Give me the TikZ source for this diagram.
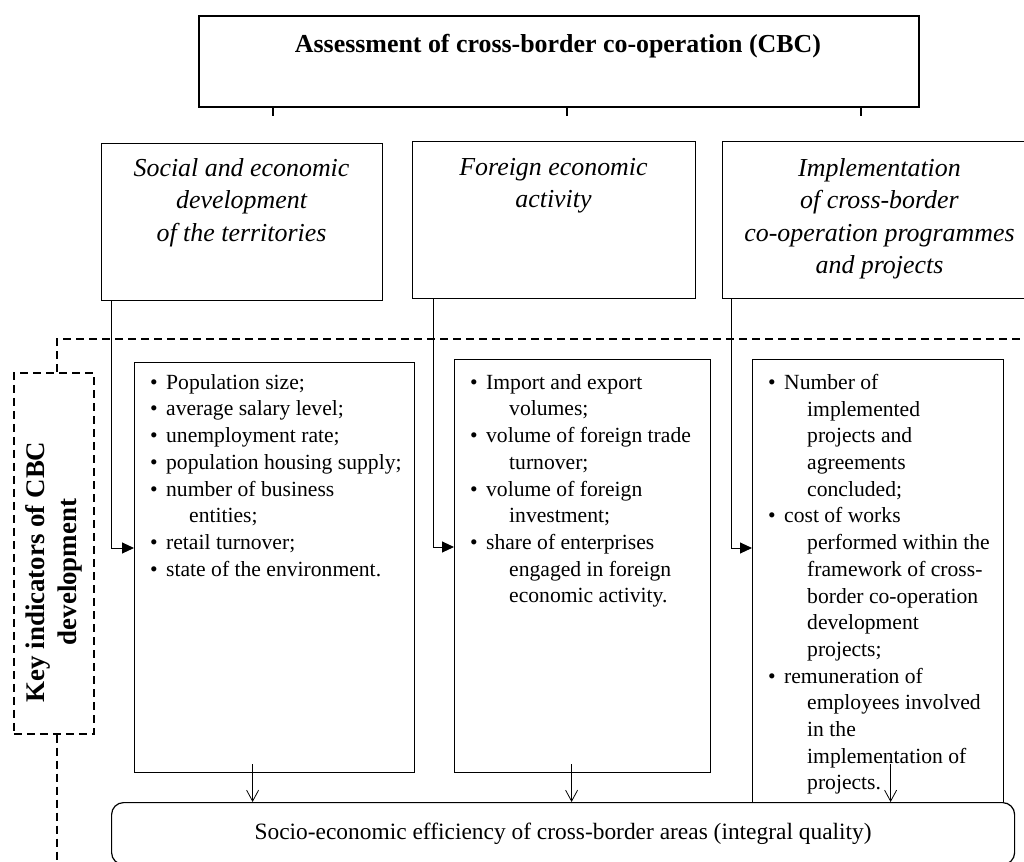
\documentclass[tikz,border=0pt]{standalone}
\usepackage{fontspec}
\setmainfont{Liberation Serif}
\usetikzlibrary{arrows.meta,positioning,calc}

\tikzset{
  % ---- boxes ------------------------------------------------------------
  boxframe/.style={draw=black, line width=1.2bp, inner sep=0pt, anchor=north west},
  topbox/.style={boxframe, line width=2bp},
  headbox/.style={boxframe, minimum height=157bp},
  listbox/.style={boxframe},
  keybox/.style={boxframe, line width=1.5bp, dash pattern=on 8bp off 5bp},
  effbox/.style={boxframe, rounded corners=12bp,
    font=\fontsize{23.5}{28}\selectfont},
  % ---- texts ------------------------------------------------------------
  ttl/.style={font=\bfseries\fontsize{26}{31}\selectfont, inner sep=0pt},
  htxt/.style={font=\itshape\fontsize{26}{32.6}\selectfont, align=center,
    inner sep=0pt, anchor=north},
  ltxt/.style={font=\fontsize{21.7}{26.8}\selectfont, align=left,
    inner sep=0pt, anchor=north west},
  ktxt/.style={font=\bfseries\fontsize{27}{32}\selectfont, align=center,
    inner sep=0pt, rotate=90},
  % ---- lines ------------------------------------------------------------
  stub/.style={line width=1.5bp},
  ar/.style={-{Triangle[length=12bp,width=11bp]}, line width=1bp},
  dar/.style={-{Straight Barb[length=11bp,width=12bp]}, line width=0.8bp},
  dline/.style={line width=1.5bp, dash pattern=on 8bp off 5bp},
}
\newcommand{\blt}[1]{\makebox[16bp][l]{\textbullet}#1}
\newcommand{\cnt}[1]{\hspace*{39bp}#1}

\begin{document}
\begin{tikzpicture}[x=1bp,y=-1bp]
\useasboundingbox (0,0) rectangle (1024,862);
\clip (0,0) rectangle (1024,862);

% ---- assessment -----------------------------------------------------------
\node[topbox, minimum width=720bp, minimum height=91bp] (top) at (198,15) {};
\node[ttl] (toptxt) at (558,46) {Assessment of cross-border co-operation (CBC)};
\draw[stub] ([xshift=75bp]top.south west) -- ++(0,8);
\draw[stub] ([xshift=369bp]top.south west) -- ++(0,8);
\draw[stub] ([xshift=663bp]top.south west) -- ++(0,8);

% ---- directions -----------------------------------------------------------
\node[headbox, minimum width=281bp] (h1) at (101,143) {};
\node[headbox, minimum width=283bp] (h2) at (412,141) {};
\node[headbox, minimum width=315bp] (h3) at (722,141) {};
\node[htxt] (h1t) at (241.5,158) {Social and economic\\development\\of the territories};
\node[htxt] (h2t) at (553.5,158) {Foreign economic\\activity};
\node[htxt] (h3t) at (879.5,158)
  {Implementation\\of cross-border\\co-operation programmes\\and projects};

% ---- key indicators -------------------------------------------------------
\node[keybox, minimum width=80bp, minimum height=361bp] (kb) at (13,372) {};
\node[ktxt] (kbt) at (54,572) {Key indicators of CBC\\development};
\coordinate (dr) at (1024,339);
\coordinate (db) at (57,866);
\draw[dline] (kb.north -| db) |- (dr);
\draw[dline] (kb.south -| db) -- (db);

\node[listbox, minimum width=280bp, minimum height=410bp] (bA) at (134,362) {};
\node[listbox, minimum width=256bp, minimum height=413bp] (bB) at (454,359) {};
\node[listbox, minimum width=251bp, minimum height=443bp] (bC) at (752,359) {};

\node[ltxt] (lA) at (150,374)
  {\blt{Population size;}\\
   \blt{average salary level;}\\
   \blt{unemployment rate;}\\
   \blt{population housing supply;}\\
   \blt{number of business}\\
   \cnt{entities;}\\
   \blt{retail turnover;}\\
   \blt{state of the environment.}};
\node[ltxt] (lB) at (470,374)
  {\blt{Import and export}\\
   \cnt{volumes;}\\
   \blt{volume of foreign trade}\\
   \cnt{turnover;}\\
   \blt{volume of foreign}\\
   \cnt{investment;}\\
   \blt{share of enterprises}\\
   \cnt{engaged in foreign}\\
   \cnt{economic activity.}};
\node[ltxt] (lC) at (768,374)
  {\blt{Number of}\\
   \cnt{implemented}\\
   \cnt{projects and}\\
   \cnt{agreements}\\
   \cnt{concluded;}\\
   \blt{cost of works}\\
   \cnt{performed within the}\\
   \cnt{framework of cross-}\\
   \cnt{border co-operation}\\
   \cnt{development}\\
   \cnt{projects;}\\
   \blt{remuneration of}\\
   \cnt{employees involved}\\
   \cnt{in the}\\
   \cnt{implementation of}\\
   \cnt{projects.}};

\draw[ar] ([xshift=10bp]h1.south west) |- ([yshift=-186bp]bA.north west);
\draw[ar] ([xshift=21bp]h2.south west) |- ([yshift=-188bp]bB.north west);
\draw[ar] ([xshift=9bp]h3.south west) |- ([yshift=-189bp]bC.north west);

% ---- efficiency -----------------------------------------------------------
\node[effbox, minimum width=903bp, minimum height=62bp] (eff) at (111,802)
  {Socio-economic efficiency of cross-border areas (integral quality)};

\draw[dar] ($(bA.south)+(-22,-9)$) -- ($(bA.south |- eff.north)+(-22,0)$);
\draw[dar] ($(bB.south)+(-11,-9)$) -- ($(bB.south |- eff.north)+(-11,0)$);
\draw[dar] ($(bC.south)+(12.5,-39)$) -- ($(bC.south |- eff.north)+(12.5,0)$);

\end{tikzpicture}
\end{document}
